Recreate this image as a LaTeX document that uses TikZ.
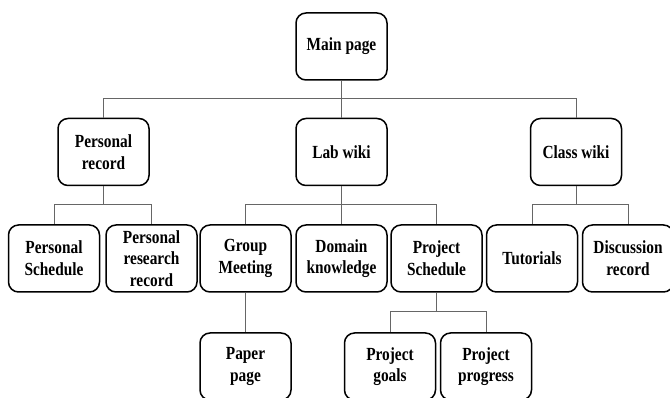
\documentclass[tikz,border=0pt]{standalone}
\usepackage{fontspec}
\setmainfont{Liberation Serif}[FakeStretch=0.83]
\begin{document}
\begin{tikzpicture}[x=1pt,y=-1pt,
  box/.style={draw=black, line width=1.5pt, rounded corners=10pt, fill=white,
    minimum width=91pt, minimum height=67pt, inner sep=1pt, align=center,
    font=\fontsize{18.5}{21.7}\selectfont\bfseries},
  conn/.style={draw=black!60, line width=0.9pt}]
\useasboundingbox (0,0) rectangle (670,398);

% horizontal buses between levels
\coordinate (busA) at (0,98);
\coordinate (busB) at (0,204);
\coordinate (busC) at (0,311);

% level 1
\node[box] (main) at (341.5,46.5) {Main page};

% level 2
\node[box] (prec) at (103.5,152) {Personal\\record};
\node[box] (lab)  at (341.5,152) {Lab wiki};
\node[box] (cls)  at (576,152)   {Class wiki};

% level 3
\node[box] (psched) at (54,258.5)    {Personal\\Schedule};
\node[box] (presr)  at (151.5,258.5) {Personal\\research\\record};
\node[box] (gmeet)  at (245.5,258.5) {Group\\Meeting};
\node[box] (dom)    at (341.5,258.5) {Domain\\knowledge};
\node[box] (proj)   at (436.5,258.5) {Project\\Schedule};
\node[box] (tut)    at (532,258.5)   {Tutorials};
\node[box] (disc)   at (628,258.5)   {Discussion\\record};

% level 4
\node[box] (paper)  at (245.5,366.5) {Paper\\page};
\node[box] (goals)  at (390,366.5)   {Project\\goals};
\node[box] (progr)  at (486,366.5)   {Project\\progress};

% main page to level 2
\draw[conn] (main.south) -- (lab.north);
\draw[conn] (prec.north) -- (prec.north |- busA) -- (cls.north |- busA) -- (cls.north);

% personal record branch
\draw[conn] (prec.south) -- (prec.south |- busB);
\draw[conn] (psched.north) -- (psched.north |- busB) -- (presr.north |- busB) -- (presr.north);

% lab wiki branch
\draw[conn] (lab.south) -- (dom.north);
\draw[conn] (gmeet.north) -- (gmeet.north |- busB) -- (proj.north |- busB) -- (proj.north);

% class wiki branch
\draw[conn] (cls.south) -- (cls.south |- busB);
\draw[conn] (tut.north) -- (tut.north |- busB) -- (disc.north |- busB) -- (disc.north);

% level 3 to level 4
\draw[conn] (gmeet.south) -- (paper.north);
\draw[conn] (proj.south) -- (proj.south |- busC);
\draw[conn] (goals.north) -- (goals.north |- busC) -- (progr.north |- busC) -- (progr.north);
\end{tikzpicture}
\end{document}
